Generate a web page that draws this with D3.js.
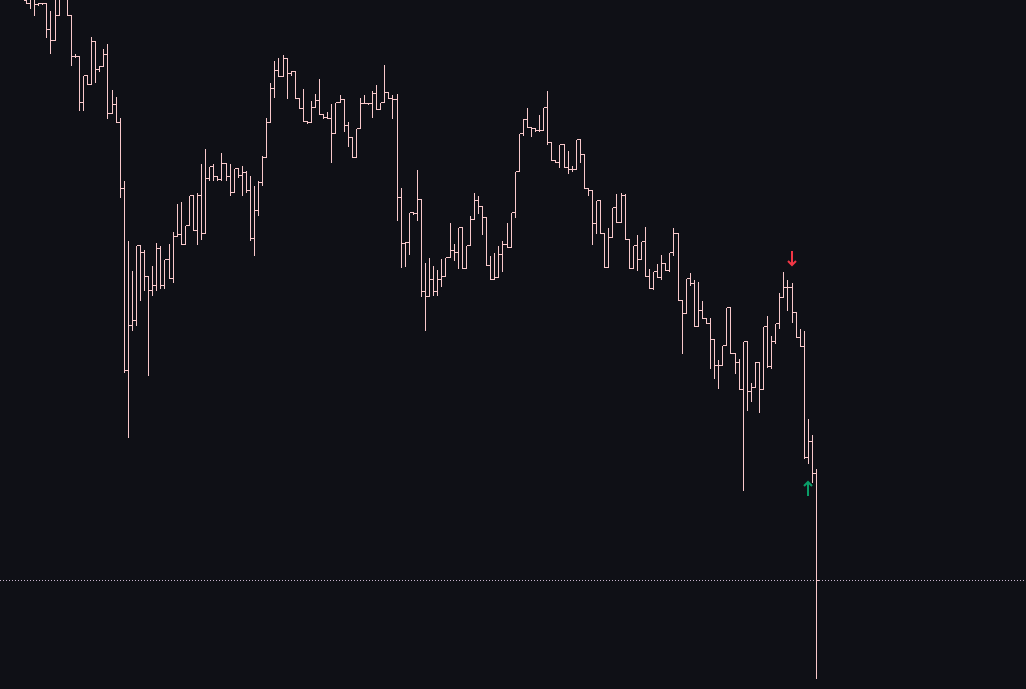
<!DOCTYPE html>
<html>
<head>
<meta charset="utf-8">
<script src="https://cdn.jsdelivr.net/npm/d3@7"></script>
<style>
  html, body { margin: 0; padding: 0; background: #0f1016; overflow: hidden; }
</style>
</head>
<body>
<div id="chart"></div>
<script>
/* OHLC bars; the open of each bar sits on the
 * previous close, so only the very first open is kept */
const firstOpen = 1000;

const highs = [
  1005, 1003, 1003, 998, 998, 997, 990, 1002, 1010, 1015, 1006, 985, 947, 944, 925, 925, 964, 959, 935, 952,
  957, 911, 904, 883, 820, 760, 730, 755, 755, 751, 724, 735, 758, 755, 741, 757, 769, 797, 799, 775,
  805, 805, 808, 837, 852, 834, 837, 824, 848, 837, 837, 832, 832, 835, 830, 825, 815, 820, 845, 883,
  918, 940, 943, 946, 942, 930, 929, 902, 912, 880, 900, 907, 922, 886, 889, 897, 898, 906, 901, 879,
  863, 872, 903, 906, 898, 910, 916, 898, 936, 908, 906, 907, 813, 759, 788, 789, 831, 801, 738, 743,
  735, 731, 742, 743, 778, 757, 773, 773, 755, 785, 808, 805, 794, 783, 745, 748, 755, 760, 778, 788,
  829, 867, 882, 893, 873, 872, 886, 893, 910, 858, 840, 856, 856, 850, 835, 861, 861, 846, 813, 810,
  800, 800, 767, 773, 793, 807, 808, 807, 762, 755, 766, 759, 774, 732, 729, 737, 746, 737, 748, 773,
  767, 700, 722, 728, 721, 719, 700, 683, 683, 661, 641, 655, 693, 693, 647, 642, 659, 659, 618, 639,
  638, 674, 685, 665, 677, 708, 729, 721, 718, 688, 672, 670, 582, 566, 532
];

const lows = [
  997, 992, 985, 995, 996, 963, 947, 960, 985, 1003, 985, 935, 943, 890, 890, 916, 916, 918, 929, 934,
  882, 887, 878, 803, 628, 563, 670, 675, 700, 710, 625, 705, 710, 712, 712, 722, 718, 764, 756, 756,
  775, 770, 756, 761, 767, 820, 820, 820, 820, 820, 805, 808, 823, 805, 808, 760, 745, 785, 815, 843,
  878, 903, 924, 924, 902, 925, 902, 892, 879, 877, 878, 893, 886, 882, 882, 838, 867, 898, 869, 854,
  843, 843, 872, 897, 896, 883, 891, 891, 898, 902, 882, 780, 733, 734, 746, 786, 780, 704, 670, 704,
  705, 705, 714, 724, 743, 740, 732, 732, 732, 755, 781, 787, 766, 735, 721, 721, 723, 729, 753, 753,
  783, 829, 865, 873, 864, 869, 869, 870, 856, 840, 838, 833, 833, 827, 829, 831, 838, 812, 805, 756,
  767, 767, 733, 733, 763, 778, 778, 761, 732, 732, 730, 741, 724, 712, 711, 723, 721, 730, 729, 745,
  700, 647, 687, 715, 674, 674, 682, 677, 632, 622, 612, 635, 655, 647, 627, 611, 510, 590, 599, 613,
  588, 611, 633, 632, 657, 672, 703, 690, 678, 663, 654, 542, 537, 518, 322
];

const closes = [
  997, 1002, 996, 997, 997, 971, 960, 985, 1005, 1005, 985, 944, 944, 898, 925, 916, 959, 931, 934, 946,
  887, 896, 878, 812, 630, 675, 680, 755, 748, 724, 710, 715, 752, 715, 741, 722, 764, 766, 756, 775,
  805, 770, 805, 767, 822, 834, 824, 821, 837, 824, 808, 832, 825, 828, 810, 762, 790, 818, 843, 878,
  912, 930, 924, 942, 927, 929, 902, 892, 879, 878, 893, 900, 886, 883, 882, 867, 898, 901, 875, 863,
  843, 872, 897, 897, 897, 907, 891, 898, 908, 902, 901, 803, 757, 758, 788, 787, 801, 709, 704, 721,
  709, 721, 724, 743, 750, 748, 773, 732, 755, 781, 800, 794, 783, 735, 721, 723, 746, 756, 753, 788,
  829, 867, 881, 873, 872, 870, 870, 893, 858, 840, 838, 856, 833, 831, 831, 861, 846, 812, 810, 777,
  800, 767, 733, 763, 793, 778, 805, 761, 732, 755, 741, 759, 724, 712, 729, 723, 737, 730, 748, 767,
  700, 687, 722, 717, 674, 690, 682, 677, 661, 635, 635, 655, 693, 647, 638, 611, 659, 609, 613, 638,
  611, 674, 634, 659, 677, 703, 713, 713, 688, 663, 654, 543, 559, 527, 420
];

/* the last price, drawn as a dotted line */
const lastPrice = 420;

/* signal arrows: bar index and direction */
const signals = [
  { index: 188, dir: "down" },
  { index: 192, dir: "up" }
];

const width = 1026;
const height = 689;
const barColor = "#f9c9cb";

const n = highs.length;
const bars = highs.map((h, i) => ({
  i: i,
  open: i === 0 ? firstOpen : closes[i - 1],
  high: h,
  low: lows[i],
  close: closes[i]
}));

const x = d3.scaleLinear().domain([0, n - 1]).range([26, 816]);
const y = d3.scaleLinear().domain([311, 1000]).range([height, 0]);

const px = v => Math.round(v) + 0.5;

const svg = d3.select("#chart").append("svg")
    .attr("width", width)
    .attr("height", height)
    .style("display", "block")
    .style("background", "#0f1016");

// dotted last price line
svg.append("line")
    .attr("x1", 0)
    .attr("x2", width)
    .attr("y1", px(y(lastPrice)))
    .attr("y2", px(y(lastPrice)))
    .attr("stroke", "#c9b6cf")
    .attr("stroke-width", 1)
    .attr("stroke-dasharray", "1,2");

// OHLC bars
svg.append("g")
    .attr("stroke", barColor)
    .attr("stroke-width", 1)
    .attr("fill", "none")
    .attr("shape-rendering", "crispEdges")
  .selectAll("path")
  .data(bars)
  .join("path")
    .attr("d", d => {
      const cx = px(x(d.i));
      return `M${cx},${px(y(d.high))}V${px(y(d.low))}` +
             `M${cx - 2.5},${px(y(d.open))}H${cx}` +
             `M${cx},${px(y(d.close))}H${cx + 2.5}`;
    });

// arrows above / below the signal bars
const arrow = svg.append("g")
    .attr("fill", "none")
    .attr("stroke-width", 2)
    .attr("stroke-linecap", "butt")
    .attr("stroke-linejoin", "miter");

signals.forEach(s => {
  const cx = Math.round(x(s.index));
  if (s.dir === "down") {
    const tip = y(highs[s.index]) - 16;
    arrow.append("path")
        .attr("stroke", "#f23645")
        .attr("d", `M${cx},${tip - 15}V${tip - 1}M${cx - 4},${tip - 5}L${cx},${tip - 1}L${cx + 4},${tip - 5}`);
  } else {
    const tip = y(lows[s.index]) + 18;
    arrow.append("path")
        .attr("stroke", "#0a9d68")
        .attr("d", `M${cx},${tip + 15}V${tip + 1}M${cx - 4},${tip + 5}L${cx},${tip + 1}L${cx + 4},${tip + 5}`);
  }
});
</script>
</body>
</html>
